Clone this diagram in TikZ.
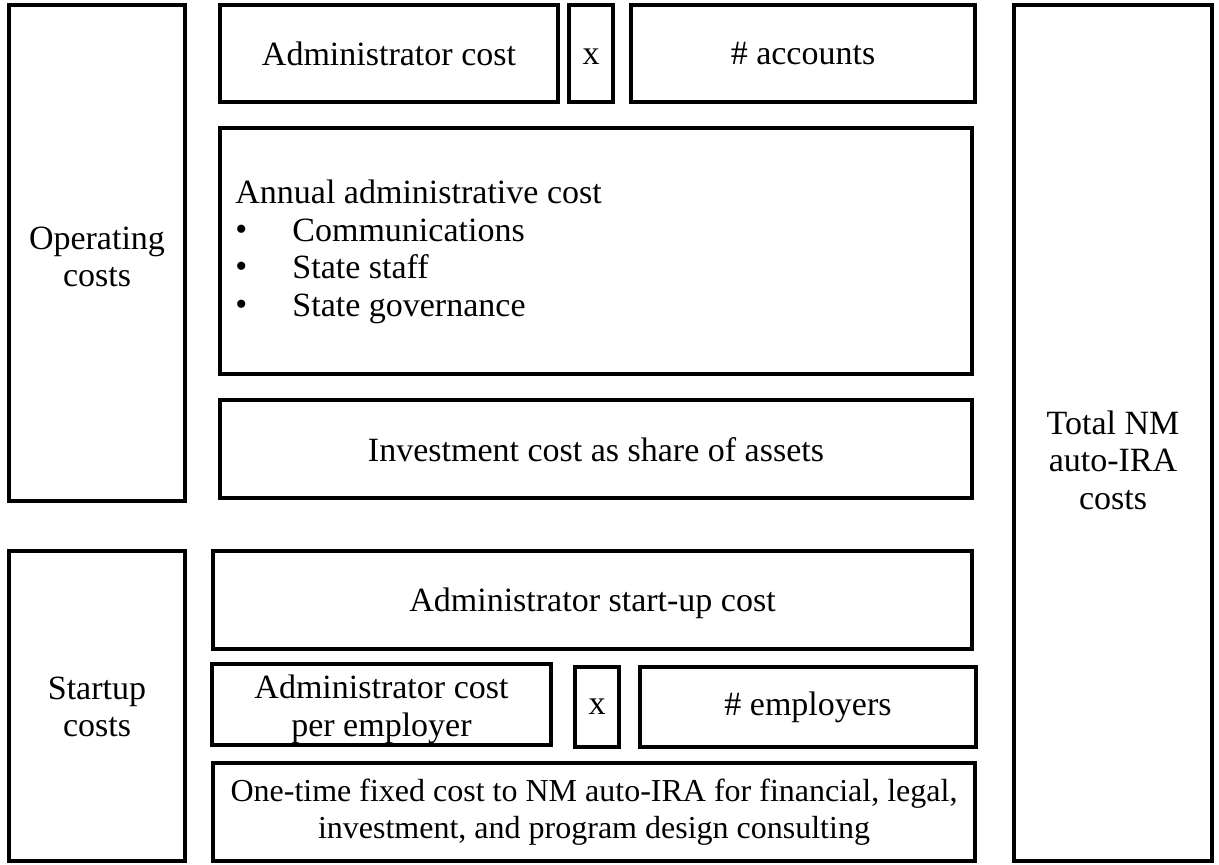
\documentclass[tikz,border=0pt]{standalone}
\usepackage{fontspec}
\setmainfont{Liberation Serif}
\begin{document}
\begin{tikzpicture}[x=1pt,y=-1pt,
  frame/.style={draw=black, line width=3.6pt, rectangle, inner sep=0pt},
  label text/.style={inner sep=0pt, align=center,
    font=\fontsize{34}{37.5}\selectfont},
]
\useasboundingbox (0,0) rectangle (1219,865);
% framed box by corners plus its text: name, x1, y1, x2, y2, text shift, text
\newcommand{\costbox}[7]{%
  \node[frame, minimum width={#4-#2}, minimum height={#5-#3}]
    (#1) at ({(#2+#4)/2},{(#3+#5)/2}) {};
  \node[label text] (#1-text) at ([yshift={-(#6)*1pt}]#1.center) {#7};}
% side groups
\costbox{op}{9}{5}{185}{501}{4}{Operating\\costs}
\costbox{start}{9}{551}{185}{861}{1}{Startup\\costs}
\costbox{total}{1014}{5}{1212}{861}{27}{Total NM\\auto-IRA\\costs}
% operating costs
\costbox{admin}{220}{5}{558}{102}{0}{Administrator cost}
\costbox{times1}{569}{5}{613}{102}{0}{\vphantom{A}x}
\costbox{accounts}{631}{5}{975}{102}{0}{\# accounts}
\node[frame, minimum width=752, minimum height=246] (annual) at (596,251) {};
\node[label text, align=left, anchor=west] (annual-text) at ([xshift=17pt,yshift=-1pt]annual.west)
  {Annual administrative cost\\
   \makebox[57pt][l]{\raisebox{1pt}{\textbullet}}Communications\\
   \makebox[57pt][l]{\raisebox{1pt}{\textbullet}}State staff\\
   \makebox[57pt][l]{\raisebox{1pt}{\textbullet}}State governance};
\costbox{invest}{220}{400}{972}{498}{1}{Investment cost as share of assets}
% startup costs
\costbox{setup}{213}{551}{972}{649}{3}{Administrator start-up cost}
\costbox{peremp}{212}{664}{551}{745}{5}{Administrator cost\\per employer}
\costbox{times2}{575}{667}{619}{747}{0}{\vphantom{Ag}x}
\costbox{employers}{640}{667}{976}{747}{0}{\# employers}
\costbox{onetime}{213}{763}{975}{861}{0}{\fontsize{32}{37.5}\selectfont One-time fixed cost to NM auto-IRA for financial, legal,\\\fontsize{32}{37.5}\selectfont investment, and program design consulting}
\end{tikzpicture}
\end{document}
